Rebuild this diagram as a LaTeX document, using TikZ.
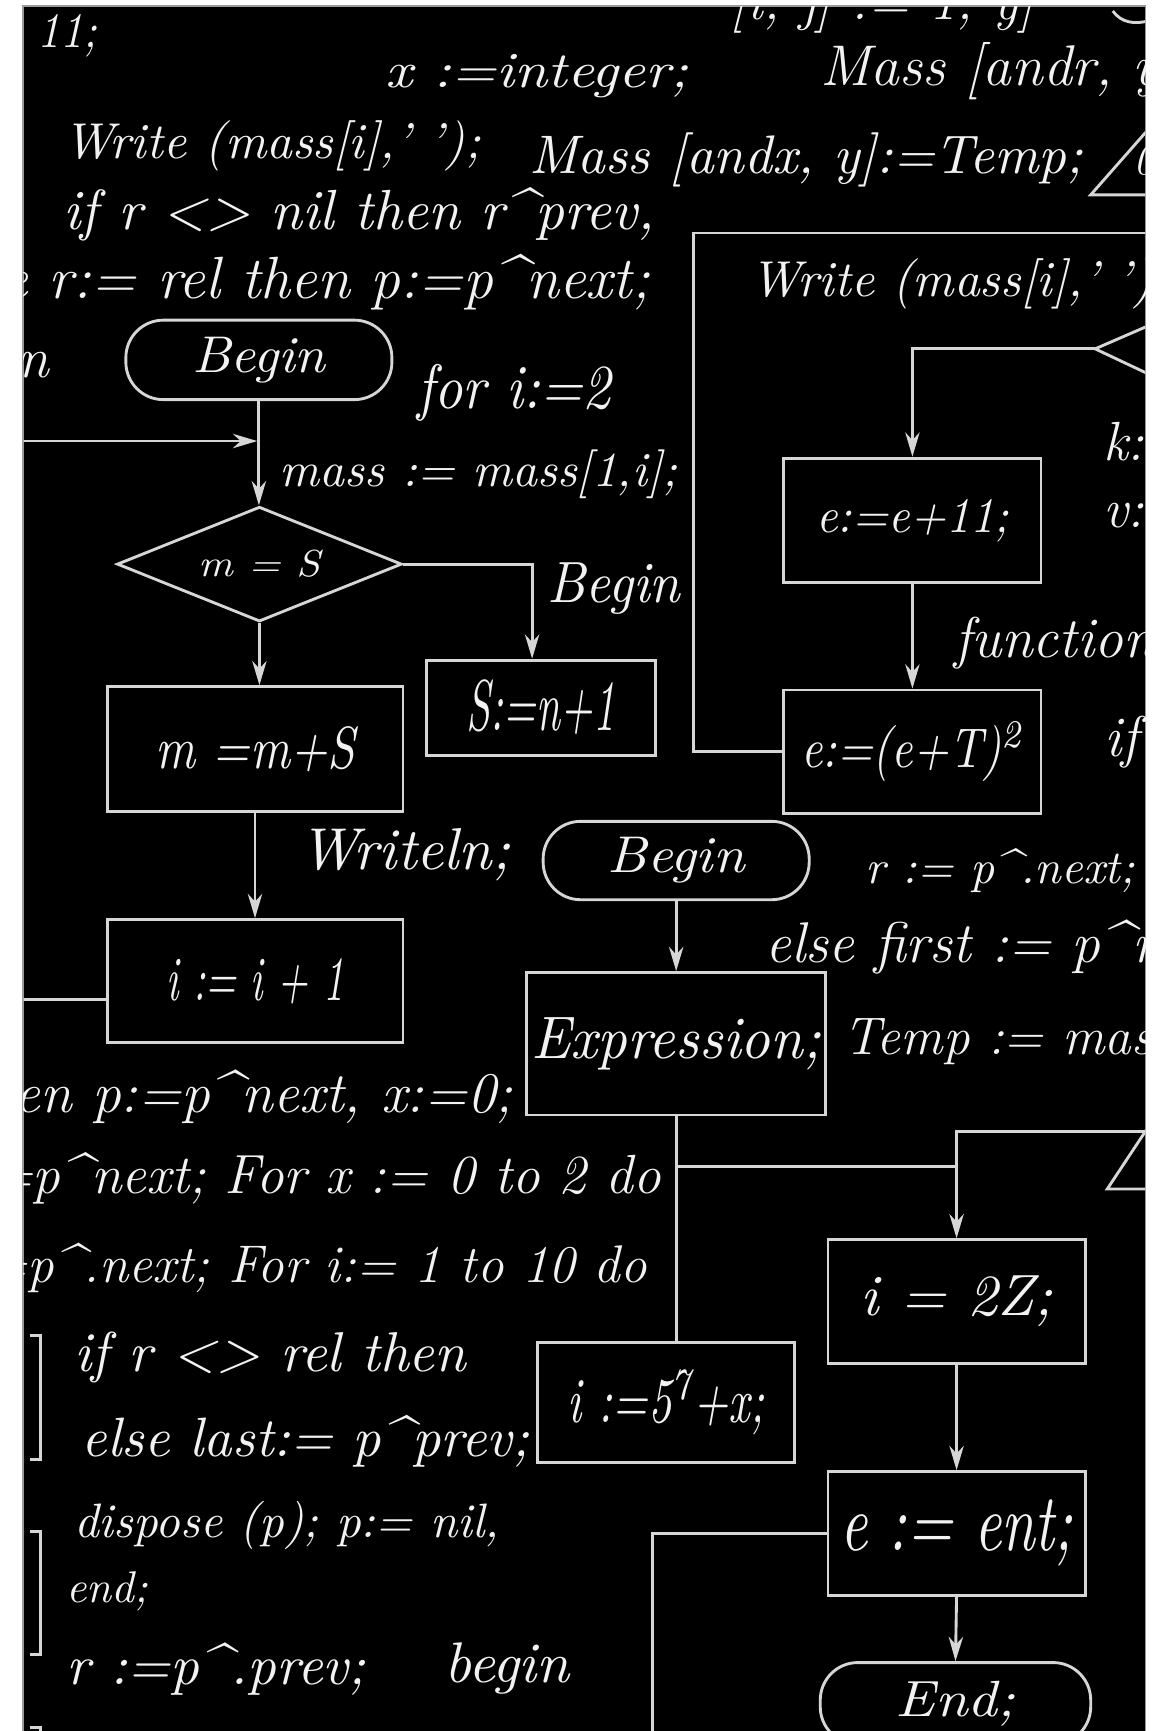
\documentclass[tikz,border=0pt]{standalone}
\usepackage{graphicx}
\usetikzlibrary{arrows.meta,shapes.geometric,calc}
\definecolor{linec}{HTML}{D6D6D6}
\definecolor{txtc}{HTML}{F2F2F2}
\definecolor{framec}{HTML}{9A9A9A}
\newcommand\hwtext[2]{\resizebox{#1pt}{!}{\itshape #2}}
\newcommand\hwhtext[3]{\resizebox{#1pt}{#2pt}{\itshape #3}}
\newcommand\hftext[2]{{\fontsize{#1}{#1}\selectfont\itshape #2}}
\newcommand\carr{\textasciicircum}
\begin{document}
\begin{tikzpicture}[x=1pt,y=-1pt,
  ln/.style={draw=linec,line width=2.6pt},
  arr/.style={ln,-{Stealth[length=22pt,width=13pt,inset=7pt]}},
  boxn/.style={draw=linec,line width=2.6pt,rectangle,inner sep=0pt,text=txtc},
  term/.style={boxn,rounded corners=34pt},
  dianode/.style={draw=linec,line width=2.6pt,diamond,aspect=2.48,inner sep=0pt,text=txtc},
  txt/.style={text=txtc,inner sep=0pt},
]
\useasboundingbox (0,0) rectangle (1045.3,1568);
\fill[white] (0,0) rectangle (1045.3,1568);
\fill[black] (20.8,5.4) rectangle (1038,1570);
\draw[framec,line width=1pt] (20.8,1570) -- (20.8,5.4) -- (1038,5.4) -- (1038,1570);
\begin{scope}
\clip (21.3,5.9) rectangle (1037.5,1568);
% ---- flowchart nodes ----
\node[term,minimum width=241pt,minimum height=72pt] (b1) at (234.5,326) {\hwhtext{121}{32}{Begin}};
\node[dianode,minimum width=258pt,minimum height=104pt] (d1) at (235,511) {\hwhtext{110}{24}{m = S}};
\node[boxn,minimum width=208pt,minimum height=86pt] (sb) at (490,641) {\hwhtext{134}{46}{S:=n+1}};
\node[boxn,minimum width=268pt,minimum height=113pt] (mb) at (231,678.5) {\hwhtext{181}{38}{m =m+S}};
\node[boxn,minimum width=268pt,minimum height=111pt] (ib) at (231,888.5) {\hwhtext{161}{38}{i := i + 1}};
\node[boxn,minimum width=233pt,minimum height=113pt] (e1) at (826.5,471.5) {\hwhtext{174}{30}{e:=e+11;}};
\node[boxn,minimum width=233pt,minimum height=112pt] (e2) at (826.5,681) {\hwhtext{201}{42}{e:=(e+T)\textsuperscript{2}}};
\node[term,minimum width=241pt,minimum height=71pt] (b2) at (612.5,779.5) {\hwhtext{124}{32}{Begin}};
\node[boxn,minimum width=271pt,minimum height=129pt] (ex) at (612.5,945.5) {\hwhtext{262}{37}{Expression;}};
\node[boxn,minimum width=233pt,minimum height=109pt] (i5) at (603.5,1270.5) {\hwhtext{178}{48}{i :=5\textsuperscript{7}+x;}};
\node[boxn,minimum width=233pt,minimum height=112pt] (iz) at (866.5,1179) {\hwhtext{174}{36}{i = 2Z;}};
\node[boxn,minimum width=233pt,minimum height=112pt] (ee) at (866.5,1389) {\hwhtext{211}{46}{e := ent;}};
\node[term,minimum width=245pt,minimum height=74pt] (en) at (865.5,1543) {\hwhtext{108}{32}{End;}};
% ---- connectors ----
\draw[arr] (b1.south) -- (b1.south |- d1.north);
\coordinate (la) at (15,399.5);
\draw[arr,shorten >=1.5pt] (la) -- (la -| b1.south);
\coordinate (sbt) at (482,641);
\draw[arr] (d1.east) -| (sbt |- sb.north);
\draw[arr] (d1.south) -- (d1.south |- mb.north);
\draw[arr] (mb.south) -- (ib.north);
\coordinate (lb) at (15,905);
\draw[ln] (lb) -- (lb -| ib.west);
\coordinate (rt) at (1045,211);
\coordinate (rc) at (628,211);
\draw[ln] (rt) -- (rc) |- (e2.west);
\coordinate (dv) at (992,316);
\coordinate (du) at (1045,293);
\coordinate (dd) at (1045,341);
\draw[ln] (du) -- (dv) -- (dd);
\draw[arr] (dv) -| (e1.north);
\draw[arr] (e1.south) -- (e2.north);
\draw[arr] (b2.south) -- (b2.south |- ex.north);
\draw[ln] (ex.south) -- (ex.south |- i5.north);
\coordinate (bj) at (866.5,1057);
\draw[ln] (ex.south |- bj) -- (bj);
\coordinate (tr) at (1045,1025);
\draw[arr] (tr) -| (iz.north);
\draw[arr] (iz.south) -- (ee.north);
\coordinate (bl) at (591,1580);
\draw[ln] (ee.west) -| (bl);
\draw[arr] (ee.south) -- (en.north);
% ---- partial shapes at the right edge ----
\coordinate (ta) at (988,176.5);
\coordinate (tb) at (1045,111.7);
\coordinate (tc) at (1045,176.5);
\draw[ln] (tb) -- (ta) -- (tc);
\coordinate (ua) at (1003,1077);
\coordinate (ub) at (1045,1013.5);
\coordinate (uc) at (1045,1077);
\draw[ln] (ub) -- (ua) -- (uc);
\draw[ln] (1008,10) .. controls (1016,21) and (1028,22) .. (1040,19);
% ---- brackets ----
\draw[ln] (27,1210) -- (37,1210) -- (37,1322) -- (27,1322);
\draw[ln] (27,1387) -- (37,1387) -- (37,1499) -- (27,1499);
\draw[ln] (27,1565) -- (37,1565) -- (37,1580);
% ---- handwritten code ----
\node[txt,anchor=base east] (ttop) at (938,18) {\hftext{50}{[i, j] := 1, y]}};
\node[txt,anchor=base west] (t11) at (34,43) {\hwhtext{54}{30}{11;}};
\node[txt,anchor=base west] (tint) at (349,79) {\hwhtext{274}{30}{x :=integer;}};
\node[txt,anchor=base west] (tmr) at (743,77) {\hftext{52}{Mass [andr, y];}};
\node[txt,anchor=base west] (tw1) at (57,144) {\hwtext{378}{Write (mass[i],' ');}};
\node[txt,anchor=base west] (tma) at (479,157) {\hwtext{502}{Mass [andx, y]:=Temp;}};
\node[txt,anchor=base west] (t0) at (1027,158) {\hftext{40}{0}};
\node[txt,anchor=base west] (tif1) at (57,208) {\hwtext{536}{if r <> nil then r\carr prev,}};
\node[txt,anchor=base east] (tel1) at (589,270) {\hftext{54}{else r:= rel then p:=p\carr next;}};
\node[txt,anchor=base east] (tn) at (45,342) {\hftext{52}{then}};
\node[txt,anchor=base west] (tfor) at (378,370) {\hwhtext{175}{40}{for i:=2}};
\node[txt,anchor=base west] (tmass) at (253,441) {\hwtext{360}{mass := mass[1,i];}};
\node[txt,anchor=base west] (tbeg) at (496,546) {\hwhtext{120}{36}{Begin}};
\node[txt,anchor=base west] (twl) at (271,788) {\hwtext{191}{Writeln;}};
\node[txt,anchor=base east] (tp1) at (465,1008) {\hftext{52}{then p:=p\carr next, x:=0;}};
\node[txt,anchor=base east] (tp2) at (599,1081) {\hftext{50}{p:=p\carr next; For x := 0 to 2 do}};
\node[txt,anchor=base east] (tp3) at (586,1162) {\hftext{48}{p:=p\carr .next; For i:= 1 to 10 do}};
\node[txt,anchor=base west] (tif2) at (67,1242) {\hwtext{355}{if r <> rel then}};
\node[txt,anchor=base west] (tel2) at (74,1319) {\hwtext{405}{else last:= p\carr prev;}};
\node[txt,anchor=base west] (tdis) at (67,1393) {\hwtext{385}{dispose (p); p:= nil,}};
\node[txt,anchor=base west] (tend) at (60,1452) {\hwtext{74}{end;}};
\node[txt,anchor=base west] (trp) at (60,1526) {\hwtext{271}{r :=p\carr .prev;}};
\node[txt,anchor=base west] (tbg) at (402,1524) {\hwhtext{114}{36}{begin}};
\node[txt,anchor=base west] (tw2) at (680,269) {\hwtext{378}{Write (mass[i],' ');}};
\node[txt,anchor=base west] (tk) at (999,417) {\hftext{50}{k:=}};
\node[txt,anchor=base west] (tv) at (999,478) {\hftext{50}{v:=}};
\node[txt,anchor=base west] (tfn) at (864,596) {\hftext{52}{function}};
\node[txt,anchor=base west] (tif3) at (1000,685) {\hftext{52}{if}};
\node[txt,anchor=base west] (trn) at (784,800) {\hwtext{244}{r := p\carr .next;}};
\node[txt,anchor=base west] (tef) at (693,872) {\hftext{52}{else first := p\carr next;}};
\node[txt,anchor=base west] (ttm) at (764,955) {\hftext{48}{Temp := mass[i];}};
\end{scope}
\end{tikzpicture}
\end{document}
